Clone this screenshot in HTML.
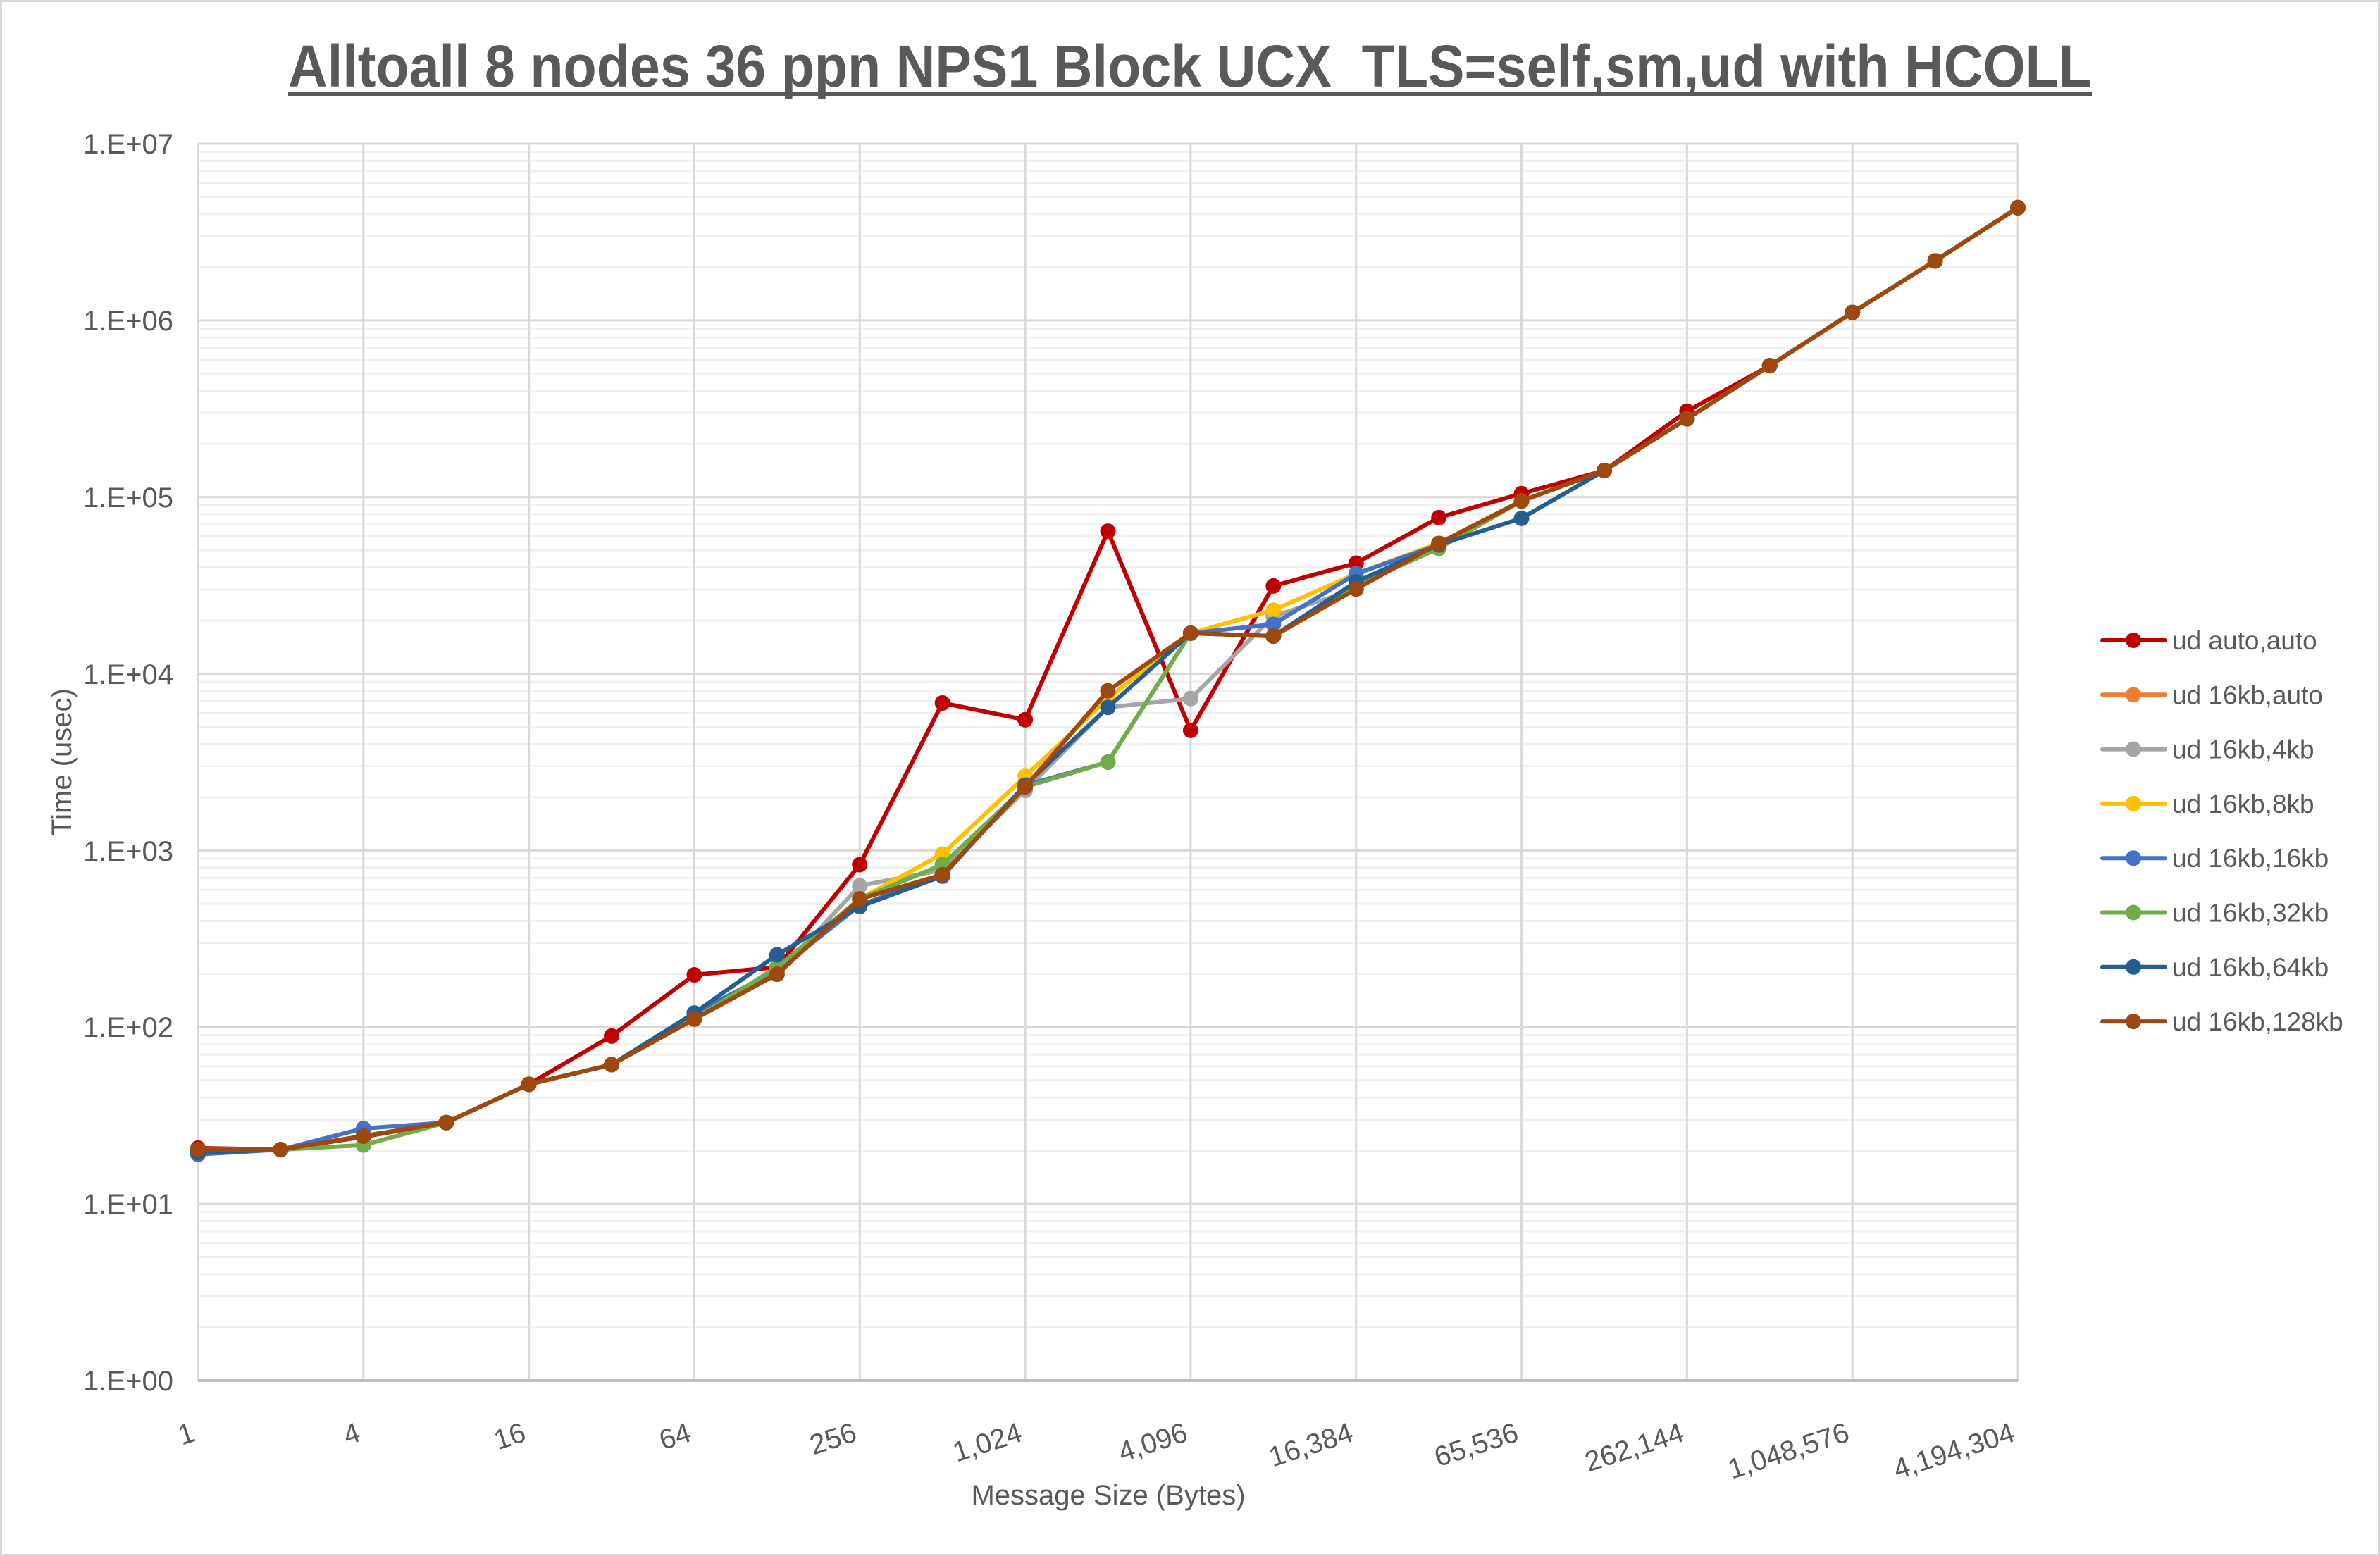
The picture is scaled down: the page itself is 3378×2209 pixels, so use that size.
<!DOCTYPE html>
<html><head><meta charset="utf-8"><style>html,body{margin:0;padding:0;background:#fff}svg{display:block}</style></head>
<body>
<svg id="s" xmlns="http://www.w3.org/2000/svg" width="3378" height="2209" viewBox="0 0 3378 2209" font-family="'Liberation Sans Narrow','Liberation Sans',sans-serif" fill="#595959">
<rect x="1.5" y="1.5" width="3375" height="2206" fill="#fff" stroke="#d9d9d9" stroke-width="3"/>
<g id="grid"></g>
<text x="1689" y="123" font-size="84" font-weight="bold" text-anchor="middle" textLength="2560" lengthAdjust="spacingAndGlyphs">Alltoall 8 nodes 36 ppn NPS1 Block UCX_TLS=self,sm,ud with HCOLL</text>
<rect x="409" y="131" width="2560" height="5" fill="#595959"/>
<g font-size="40" text-anchor="end">
<text x="246" y="218">1.E+07</text><text x="246" y="469">1.E+06</text><text x="246" y="720">1.E+05</text><text x="246" y="971">1.E+04</text><text x="246" y="1222">1.E+03</text><text x="246" y="1472">1.E+02</text><text x="246" y="1723">1.E+01</text><text x="246" y="1974">1.E+00</text>
</g>
<g id="xl" font-size="40" text-anchor="end"></g>
<text x="1573" y="2136" font-size="40" text-anchor="middle">Message Size (Bytes)</text>
<text transform="translate(101,1082) rotate(-90)" font-size="40" text-anchor="middle">Time (usec)</text>
<g id="series"></g>
<g id="legend" font-size="37" font-family="'Liberation Sans',sans-serif"></g>
</svg>
<script>
var L=281,R=2864,T=204,B=1960,dx=(R-L)/22,dec=(B-T)/7;
function X(i){return L+i*dx}function Y(l){return B-l*dec}
var g=document.getElementById('grid'),h='';
for(var d=0;d<7;d++)for(var m=2;m<10;m++){var y=Y(d+Math.log10(m));h+='<line x1="'+L+'" x2="'+R+'" y1="'+y+'" y2="'+y+'" stroke="#f0f0f0" stroke-width="3"/>';}
for(var d=1;d<=7;d++){h+='<line x1="'+L+'" x2="'+R+'" y1="'+Y(d)+'" y2="'+Y(d)+'" stroke="#d9d9d9" stroke-width="3"/>';}
for(var i=2;i<=22;i+=2){h+='<line x1="'+X(i)+'" x2="'+X(i)+'" y1="'+T+'" y2="'+B+'" stroke="#d9d9d9" stroke-width="3"/>';}
h+='<line x1="'+L+'" x2="'+L+'" y1="'+T+'" y2="'+B+'" stroke="#d9d9d9" stroke-width="3"/>';
h+='<line x1="'+L+'" x2="'+R+'" y1="'+B+'" y2="'+B+'" stroke="#bfbfbf" stroke-width="4"/>';
g.innerHTML=h;
var labs=['1','4','16','64','256','1,024','4,096','16,384','65,536','262,144','1,048,576','4,194,304'];
var xl='';for(var k=0;k<12;k++){var x=X(2*k)-2,y=2045;xl+='<text transform="translate('+x+','+y+') rotate(-18)">'+labs[k]+'</text>';}
document.getElementById('xl').innerHTML=xl;
var tail=[5.15,5.443,5.744,6.045,6.337,6.638];
var base=[1.307,1.307,1.384,1.46,1.677,1.788,2.046,2.30,2.726,2.863,3.36,3.904,4.23,4.213,4.48,4.738,4.978];
function mk(over){var a=base.slice();for(var k in over)a[k]=over[k];return a.concat(tail);}
var S=[
['ud auto,auto','#c00000',[1.316,1.307,1.38,1.46,1.677,1.95,2.296,2.34,2.92,3.835,3.74,4.807,3.68,4.497,4.626,4.884,5.02,5.15,5.486,5.744,6.045,6.337,6.638]],
['ud 16kb,auto','#ed7d31',mk({})],
['ud 16kb,4kb','#a5a5a5',mk({8:2.80,9:2.89,10:3.34,11:3.81,12:3.86,13:4.325})],
['ud 16kb,8kb','#ffc000',mk({8:2.726,9:2.98,10:3.42,11:3.86,12:4.23,13:4.36,14:4.566})],
['ud 16kb,16kb','#4472c4',mk({0:1.28,2:1.427,6:2.08,7:2.32,8:2.69,9:2.863,10:3.37,11:3.50,13:4.28,14:4.566,15:4.73})],
['ud 16kb,32kb','#70ad47',mk({2:1.333,7:2.34,8:2.726,9:2.92,10:3.36,11:3.50,14:4.50,15:4.71})],
['ud 16kb,64kb','#255e91',mk({0:1.29,6:2.08,7:2.41,8:2.683,9:2.855,10:3.37,11:3.81,14:4.52,15:4.73,16:4.88})],
['ud 16kb,128kb','#9e480e',mk({})]
];
var sh='',lg='';
S.forEach(function(s,j){var p=s[2].map(function(v,i){return X(i).toFixed(1)+','+Y(v).toFixed(1)}).join(' ');
sh+='<polyline points="'+p+'" fill="none" stroke="'+s[1]+'" stroke-width="6" stroke-linejoin="round"/>';
s[2].forEach(function(v,i){sh+='<circle cx="'+X(i)+'" cy="'+Y(v)+'" r="11" fill="'+s[1]+'"/>';});
var ly=909+j*77.3;
lg+='<line x1="2984" x2="3073" y1="'+ly+'" y2="'+ly+'" stroke="'+s[1]+'" stroke-width="6" stroke-linecap="round"/><circle cx="3028" cy="'+ly+'" r="11" fill="'+s[1]+'"/><text x="3083" y="'+(ly+13)+'">'+s[0]+'</text>';});
document.getElementById('series').innerHTML=sh;document.getElementById('legend').innerHTML=lg;
</script>
</body></html>
